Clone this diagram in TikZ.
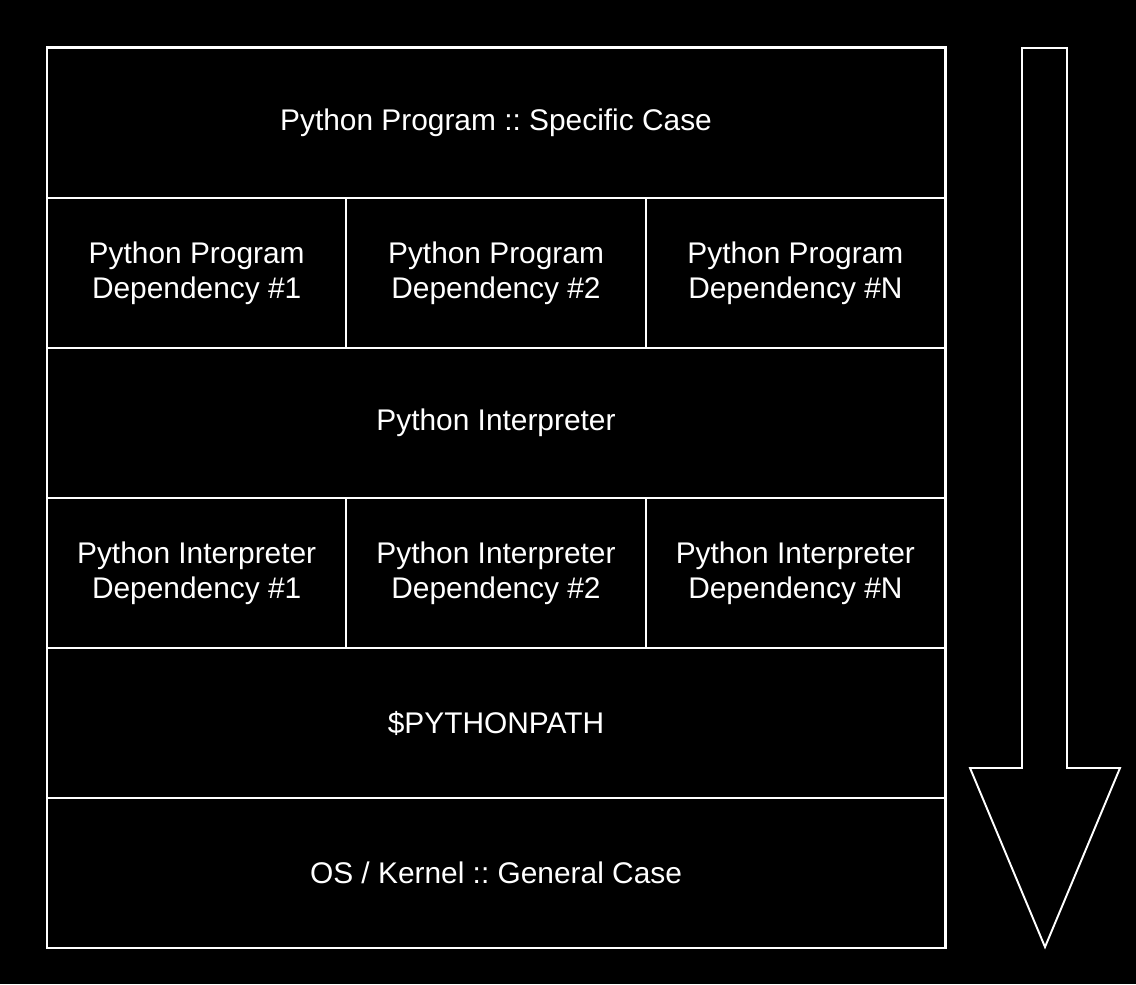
\documentclass[tikz,border=0pt]{standalone}
\usepackage{fontspec}
\setmainfont{Liberation Sans}
\usetikzlibrary{positioning}
\frenchspacing

\begin{document}
\begin{tikzpicture}[
  cell/.style={draw=white!72, line width=1.1pt, outer sep=0pt, inner sep=0pt,
    minimum width=17.96cm, minimum height=3cm, align=center,
    text=white!92, font=\fontsize{17}{20}\selectfont},
  third/.style={cell, minimum width=5.987cm}]
  \fill[black] (0,0) rectangle (22.72,19.68);
  \useasboundingbox (0,0) rectangle (22.72,19.68);
  % layers, specific on top
  \node[cell] (prog) at (9.92,17.22) {Python Program :: Specific Case};
  \node[third, anchor=north west] (pdep1) at (prog.south west) {Python Program\\Dependency \#1};
  \node[third, right=0pt of pdep1] (pdep2) {Python Program\\Dependency \#2};
  \node[third, right=0pt of pdep2] (pdepn) {Python Program\\Dependency \#N};
  \node[cell, anchor=north west] (interp) at (pdep1.south west) {Python Interpreter};
  \node[third, anchor=north west] (idep1) at (interp.south west) {Python Interpreter\\Dependency \#1};
  \node[third, right=0pt of idep1] (idep2) {Python Interpreter\\Dependency \#2};
  \node[third, right=0pt of idep2] (idepn) {Python Interpreter\\Dependency \#N};
  \node[cell, anchor=north west] (path) at (idep1.south west) {\$PYTHONPATH};
  \node[cell, below=0pt of path] (os) {OS / Kernel :: General Case};
  \draw[white, line width=1.7pt] (prog.north west) rectangle (os.south east);
  % big arrow
  \draw[white!75, line width=1.1pt, line join=miter]
    (20.44,18.72) -- (21.34,18.72) -- (21.34,4.32) -- (22.4,4.32)
    -- (20.9,0.74) -- (19.4,4.32) -- (20.44,4.32) -- cycle;
\end{tikzpicture}
\end{document}
